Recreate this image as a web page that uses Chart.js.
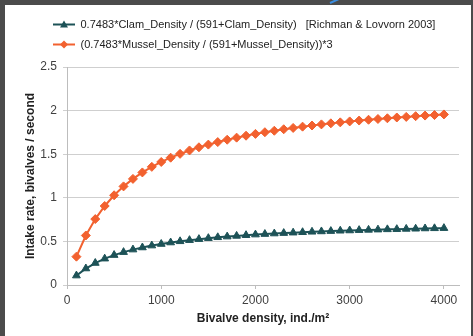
<!DOCTYPE html>
<html>
<head>
<meta charset="utf-8">
<script src="https://cdn.jsdelivr.net/npm/chart.js@4"></script>
<style>
  html, body { margin: 0; padding: 0; }
  body { width: 473px; height: 336px; background: #4b4b4b; position: relative; overflow: hidden; }
  .panel { position: absolute; left: 5px; top: 5px; width: 466px; height: 331px; background: #fff; }
  .arrow { position: absolute; left: 330px; top: 2px; width: 16px; height: 2px; background: #3b8ee0; transform: rotate(-24deg); transform-origin: left center; }
</style>
</head>
<body>
<div class="panel"><canvas id="myChart" width="466" height="331"></canvas></div>
<div class="arrow"></div>
<script>
// bivalve density (ind./m2)
const densities = [100, 200, 300, 400, 500, 600, 700, 800, 900, 1000,
  1100, 1200, 1300, 1400, 1500, 1600, 1700, 1800, 1900, 2000,
  2100, 2200, 2300, 2400, 2500, 2600, 2700, 2800, 2900, 3000,
  3100, 3200, 3300, 3400, 3500, 3600, 3700, 3800, 3900, 4000];

const clamRates = [0.108, 0.189, 0.252, 0.302, 0.343, 0.377, 0.406, 0.430, 0.452, 0.470,
  0.487, 0.501, 0.514, 0.526, 0.537, 0.547, 0.555, 0.563, 0.571, 0.578,
  0.584, 0.590, 0.595, 0.600, 0.605, 0.610, 0.614, 0.618, 0.622, 0.625,
  0.629, 0.632, 0.635, 0.638, 0.640, 0.643, 0.645, 0.648, 0.650, 0.652];

const musselRates = [0.325, 0.568, 0.756, 0.906, 1.029, 1.131, 1.217, 1.291, 1.355, 1.411,
  1.460, 1.504, 1.543, 1.579, 1.610, 1.639, 1.666, 1.690, 1.712, 1.733,
  1.752, 1.769, 1.786, 1.801, 1.816, 1.829, 1.842, 1.854, 1.865, 1.876,
  1.886, 1.895, 1.904, 1.912, 1.921, 1.928, 1.936, 1.943, 1.949, 1.956];

const xTicks = [0, 1000, 2000, 3000, 4000];
const yTicks = [0, 0.5, 1, 1.5, 2, 2.5];

const seriesLabels = [
  "0.7483*Clam_Density / (591+Clam_Density)   [Richman & Lovvorn 2003]",
  "(0.7483*Mussel_Density / (591+Mussel_Density))*3"
];

const xTitle = "Bivalve density, ind./m\u00b2";
const yTitle = "Intake rate, bivalves / second";

const clamColor = "#1d5257";
const musselColor = "#f2612f";

// little line+marker glyph for the legend
function legendGlyph(color, shape) {
  const c = document.createElement("canvas");
  c.width = 26; c.height = 11;
  const g = c.getContext("2d");
  g.strokeStyle = color;
  g.lineWidth = 2;
  g.beginPath(); g.moveTo(4, 5.5); g.lineTo(26, 5.5); g.stroke();
  g.fillStyle = color;
  g.beginPath();
  if (shape === "tri") {
    g.moveTo(15, 1.5); g.lineTo(19, 8.5); g.lineTo(11, 8.5);
  } else {
    g.moveTo(15, 1.5); g.lineTo(19, 5.5); g.lineTo(15, 9.5); g.lineTo(11, 5.5);
  }
  g.closePath(); g.fill();
  return c;
}

const glyphs = [legendGlyph(clamColor, "tri"), legendGlyph(musselColor, "dia")];

Chart.defaults.font.family = "'Liberation Sans', Arial, sans-serif";
Chart.defaults.color = "#404040";

// legend sits indented and a bit higher than chart.js puts it
const shiftLegend = {
  id: "shiftLegend",
  afterLayout(chart) {
    chart.legend.left += 35;
    chart.legend.top -= 7;
  }
};

const ctx = document.getElementById("myChart");
new Chart(ctx, {
  type: "line",
  data: {
    datasets: [
      {
        label: seriesLabels[0],
        data: densities.map((d, i) => ({ x: d, y: clamRates[i] })),
        borderColor: clamColor,
        backgroundColor: clamColor,
        borderWidth: 2,
        pointStyle: "triangle",
        pointRadius: 4.5,
        pointBorderWidth: 1,
        fill: false,
        tension: 0
      },
      {
        label: seriesLabels[1],
        data: densities.map((d, i) => ({ x: d, y: musselRates[i] })),
        borderColor: musselColor,
        backgroundColor: musselColor,
        borderWidth: 2,
        pointStyle: "rectRot",
        pointRadius: 4.5,
        pointBorderWidth: 1,
        fill: false,
        tension: 0
      }
    ]
  },
  options: {
    responsive: false,
    animation: false,
    layout: { padding: { top: 12, right: 12, bottom: 0, left: 0 } },
    plugins: {
      tooltip: { enabled: false },
      legend: {
        position: "top",
        align: "start",
        labels: {
          color: "#222",
          font: { size: 11 },
          padding: 9,
          usePointStyle: true,
          pointStyleWidth: 26,
          generateLabels(chart) {
            return chart.data.datasets.map((ds, i) => ({
              text: ds.label,
              pointStyle: glyphs[i],
              fillStyle: ds.borderColor,
              strokeStyle: ds.borderColor,
              lineWidth: 0,
              fontColor: "#222",
              datasetIndex: i
            }));
          }
        }
      }
    },
    scales: {
      x: {
        type: "linear",
        min: 0,
        max: 4160,
        afterBuildTicks(scale) { scale.ticks = xTicks.map(v => ({ value: v })); },
        ticks: { padding: 4, font: { size: 12 }, maxRotation: 0, callback: v => String(v) },
        grid: { drawOnChartArea: false, drawTicks: true, tickLength: 4, color: "#bdbdbd" },
        border: { color: "#bdbdbd" },
        title: { display: true, text: xTitle, color: "#222", font: { size: 12, weight: "bold" }, padding: { top: 0, bottom: 10 } },
        afterFit(scale) { scale.height = 51; }
      },
      y: {
        min: 0,
        max: 2.5,
        afterBuildTicks(scale) { scale.ticks = yTicks.map(v => ({ value: v })); },
        ticks: { padding: 6, font: { size: 12 }, callback: v => String(v) },
        grid: { color: "#cfcfcf", tickLength: 4 },
        border: { color: "#bdbdbd" },
        title: { display: true, text: yTitle, color: "#222", font: { size: 12, weight: "bold" }, padding: { top: 18, bottom: 0 } },
        afterFit(scale) { scale.width = 62; }
      }
    }
  },
  plugins: [shiftLegend]
});
</script>
</body>
</html>
